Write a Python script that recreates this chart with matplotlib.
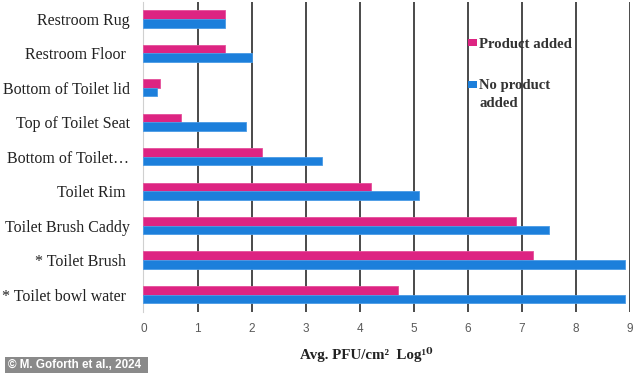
import matplotlib
matplotlib.use("Agg")
import matplotlib.pyplot as plt
from matplotlib.patches import Rectangle
from matplotlib.transforms import ScaledTranslation
import numpy as np

# ------------------------------------------------------------------ #
# data (bottom to top)
# ------------------------------------------------------------------ #
CATEGORIES = [
    "* Toilet bowl water ",
    "* Toilet Brush ",
    "Toilet Brush Caddy",
    "Toilet Rim ",
    "Bottom of Toilet\u2026",
    "Top of Toilet Seat",
    "Bottom of Toilet lid",
    "Restroom Floor ",
    "Restroom Rug",
]
PRODUCT_ADDED = [4.7, 7.2, 6.9, 4.2, 2.2, 0.7, 0.3, 1.5, 1.5]
NO_PRODUCT = [8.9, 8.9, 7.5, 5.1, 3.3, 1.9, 0.25, 2.0, 1.5]
XTICKS = list(range(10))
SERIES = ["Product added", "No product\nadded"]

PINK = "#DD2482"
BLUE = "#1C7FDB"
SERIF = ["Liberation Serif", "DejaVu Serif"]

fig = plt.figure(figsize=(6.34, 3.73), dpi=100)
ax = fig.add_axes([0.2263, 0.1642, 0.7674, 0.8311])

y = np.arange(len(CATEGORIES))
h = 0.25
ax.barh(y + h / 2, PRODUCT_ADDED, height=h, color=PINK,
        edgecolor="#E4509A", linewidth=0.6, zorder=3)
ax.barh(y - h / 2, NO_PRODUCT, height=h, color=BLUE,
        edgecolor="#4A9BE6", linewidth=0.6, zorder=3)

ax.set_xlim(0, 9)
ax.set_ylim(-0.5, len(CATEGORIES) - 0.5)
ax.set_xticks(XTICKS)
ax.set_yticks(y)
ax.set_yticklabels(CATEGORIES, family=SERIF, fontsize=11.5, color="#222222")
for lab in ax.get_xticklabels():
    lab.set_family("Liberation Sans")
    lab.set_fontsize(8.5)
    lab.set_color("#595959")

# the truncated label sits a bit further right
lab = ax.get_yticklabels()[4]
lab.set_transform(lab.get_transform() + ScaledTranslation(11 / 100, 0, fig.dpi_scale_trans))

ax.tick_params(axis="y", length=0, pad=10)
ax.tick_params(axis="x", length=0, pad=8)
ax.grid(axis="x", color="#2b2b2b", linewidth=1.2, zorder=1)
for side in ("top", "right", "bottom"):
    ax.spines[side].set_visible(False)
ax.spines["left"].set_color("#d0d0d0")
ax.spines["left"].set_linewidth(0.8)

# legend, drawn by hand (Excel style: handle beside first line of label)
legend_pos = [(468 / 634, 1 - 46 / 373), (468 / 634, 1 - 87.5 / 373)]
for (lx, ly), name, col in zip(legend_pos, SERIES, [PINK, BLUE]):
    ax.add_patch(Rectangle((lx, ly), 8.5 / 634, 6.5 / 373, transform=fig.transFigure,
                           facecolor=col, edgecolor="none", clip_on=False, zorder=4))
    ax.text(lx + 11 / 634, ly + 8 / 373, name, transform=fig.transFigure,
            family=SERIF, fontweight="bold", fontsize=10.6, color="#333333",
            va="top", ha="left", linespacing=1.45, zorder=0.5)

ax.set_xlabel("Avg. PFU/cm\u00b2  Log\u00b9\u2070", family=SERIF, fontweight="bold",
              fontsize=10.8, color="#222222")
ax.xaxis.set_label_coords(0.457, -0.114)

fig.add_artist(Rectangle((5 / 634, 0), 143 / 634, 16 / 373, transform=fig.transFigure,
                         facecolor="#8a8a8a", edgecolor="none"))
fig.text(8 / 634, 8 / 373, "\u00a9 M. Goforth et al., 2024", family="Liberation Sans",
         fontweight="bold", fontsize=8.4, color="white", va="center", ha="left")

fig.savefig("out.png", dpi=100)
